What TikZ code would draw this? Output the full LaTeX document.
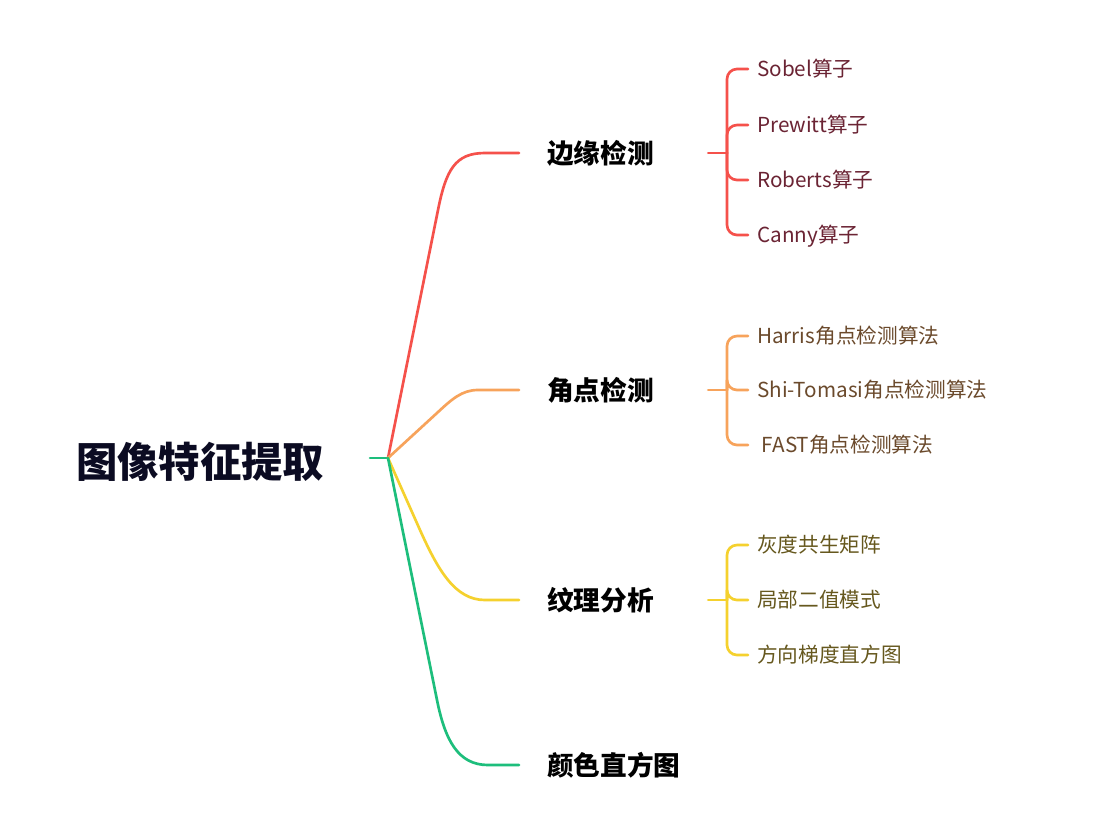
\documentclass[tikz,border=0pt]{standalone}
\usepackage{fontspec}
\setmainfont{Noto Sans CJK SC}
\definecolor{cred}{HTML}{F5514B}
\definecolor{corange}{HTML}{F7A35B}
\definecolor{cyellow}{HTML}{F5D12E}
\definecolor{cgreen}{HTML}{1DBE7C}
\definecolor{tred}{HTML}{6B2434}
\definecolor{torange}{HTML}{6B4A2C}
\definecolor{tyellow}{HTML}{66581E}
\definecolor{troot}{HTML}{0B0B22}
\tikzset{
  rootnode/.style={font=\fontsize{31pt}{31pt}\selectfont\bfseries, text=troot, inner sep=0pt, text height=27.3pt, text depth=3.7pt},
  branchnode/.style={font=\fontsize{20pt}{20pt}\selectfont\bfseries, text=black, inner sep=0pt, anchor=west, text height=17.6pt, text depth=2.4pt},
  leafnode/.style={font=\fontsize{15.5pt}{15.5pt}\selectfont, inner sep=0pt, anchor=west, text height=13.6pt, text depth=1.9pt},
  conn/.style={line width=2pt, line cap=round, line join=round},
  leafconn/.style={line width=2pt, rounded corners=7.5pt, line cap=round},
}
\begin{document}
\begin{tikzpicture}[x=0.75pt,y=-0.75pt]
\useasboundingbox (0,0) rectangle (1116,826);
\fill[white] (0,0) rectangle (1116,826);

% root
\node[rootnode] (root) at (200,462) {图像特征提取};
\coordinate (rs) at (370,458);
\coordinate (rj) at (388,458);

% branches
\node[branchnode] (b1) at (547,153) {边缘检测};
\node[branchnode] (b2) at (547,390) {角点检测};
\node[branchnode] (b3) at (547,600) {纹理分析};
\node[branchnode] (b4) at (547,765) {颜色直方图};

\draw[conn,cgreen] (rs) -- (rj);
\draw[conn,cred] (rj) -- (438,210) .. controls (446,170) and (455,153) .. (485,153) -- ([xshift=-21pt]b1.west);
\draw[conn,corange] (rj) -- (437,413) .. controls (452,399) and (462,390) .. (478,390) -- ([xshift=-21pt]b2.west);
\draw[conn,cyellow] (rj) -- (420,530) .. controls (438,570) and (455,600) .. (485,600) -- ([xshift=-21pt]b3.west);
\draw[conn,cgreen] (rj) -- (437,700) .. controls (445,740) and (458,765) .. (488,765) -- ([xshift=-21pt]b4.west);

% leaves of branch 1
\node[leafnode,text=tred] (l11) at (757,69) {Sobel算子};
\node[leafnode,text=tred] (l12) at (757,125) {Prewitt算子};
\node[leafnode,text=tred] (l13) at (757,180) {Roberts算子};
\node[leafnode,text=tred] (l14) at (757,235) {Canny算子};
\coordinate (j1) at (727,153);
\draw[conn,cred] ([xshift=40.5pt]b1.east) -- (j1);
\foreach \l in {l11,l12,l13,l14}
  \draw[leafconn,cred] (j1) -- (j1 |- \l.west) -- ([xshift=-6.75pt]\l.west);

% leaves of branch 2
\node[leafnode,text=torange] (l21) at (757,336) {Harris角点检测算法};
\node[leafnode,text=torange] (l22) at (757,390) {Shi-Tomasi角点检测算法};
\node[leafnode,text=torange] (l23) at (757,445) {\ FAST角点检测算法};
\coordinate (j2) at (727,390);
\draw[conn,corange] ([xshift=40.5pt]b2.east) -- (j2);
\foreach \l in {l21,l22,l23}
  \draw[leafconn,corange] (j2) -- (j2 |- \l.west) -- ([xshift=-6.75pt]\l.west);

% leaves of branch 3
\node[leafnode,text=tyellow] (l31) at (757,545) {灰度共生矩阵};
\node[leafnode,text=tyellow] (l32) at (757,600) {局部二值模式};
\node[leafnode,text=tyellow] (l33) at (757,655) {方向梯度直方图};
\coordinate (j3) at (727,600);
\draw[conn,cyellow] ([xshift=40.5pt]b3.east) -- (j3);
\foreach \l in {l31,l32,l33}
  \draw[leafconn,cyellow] (j3) -- (j3 |- \l.west) -- ([xshift=-6.75pt]\l.west);
\end{tikzpicture}
\end{document}
